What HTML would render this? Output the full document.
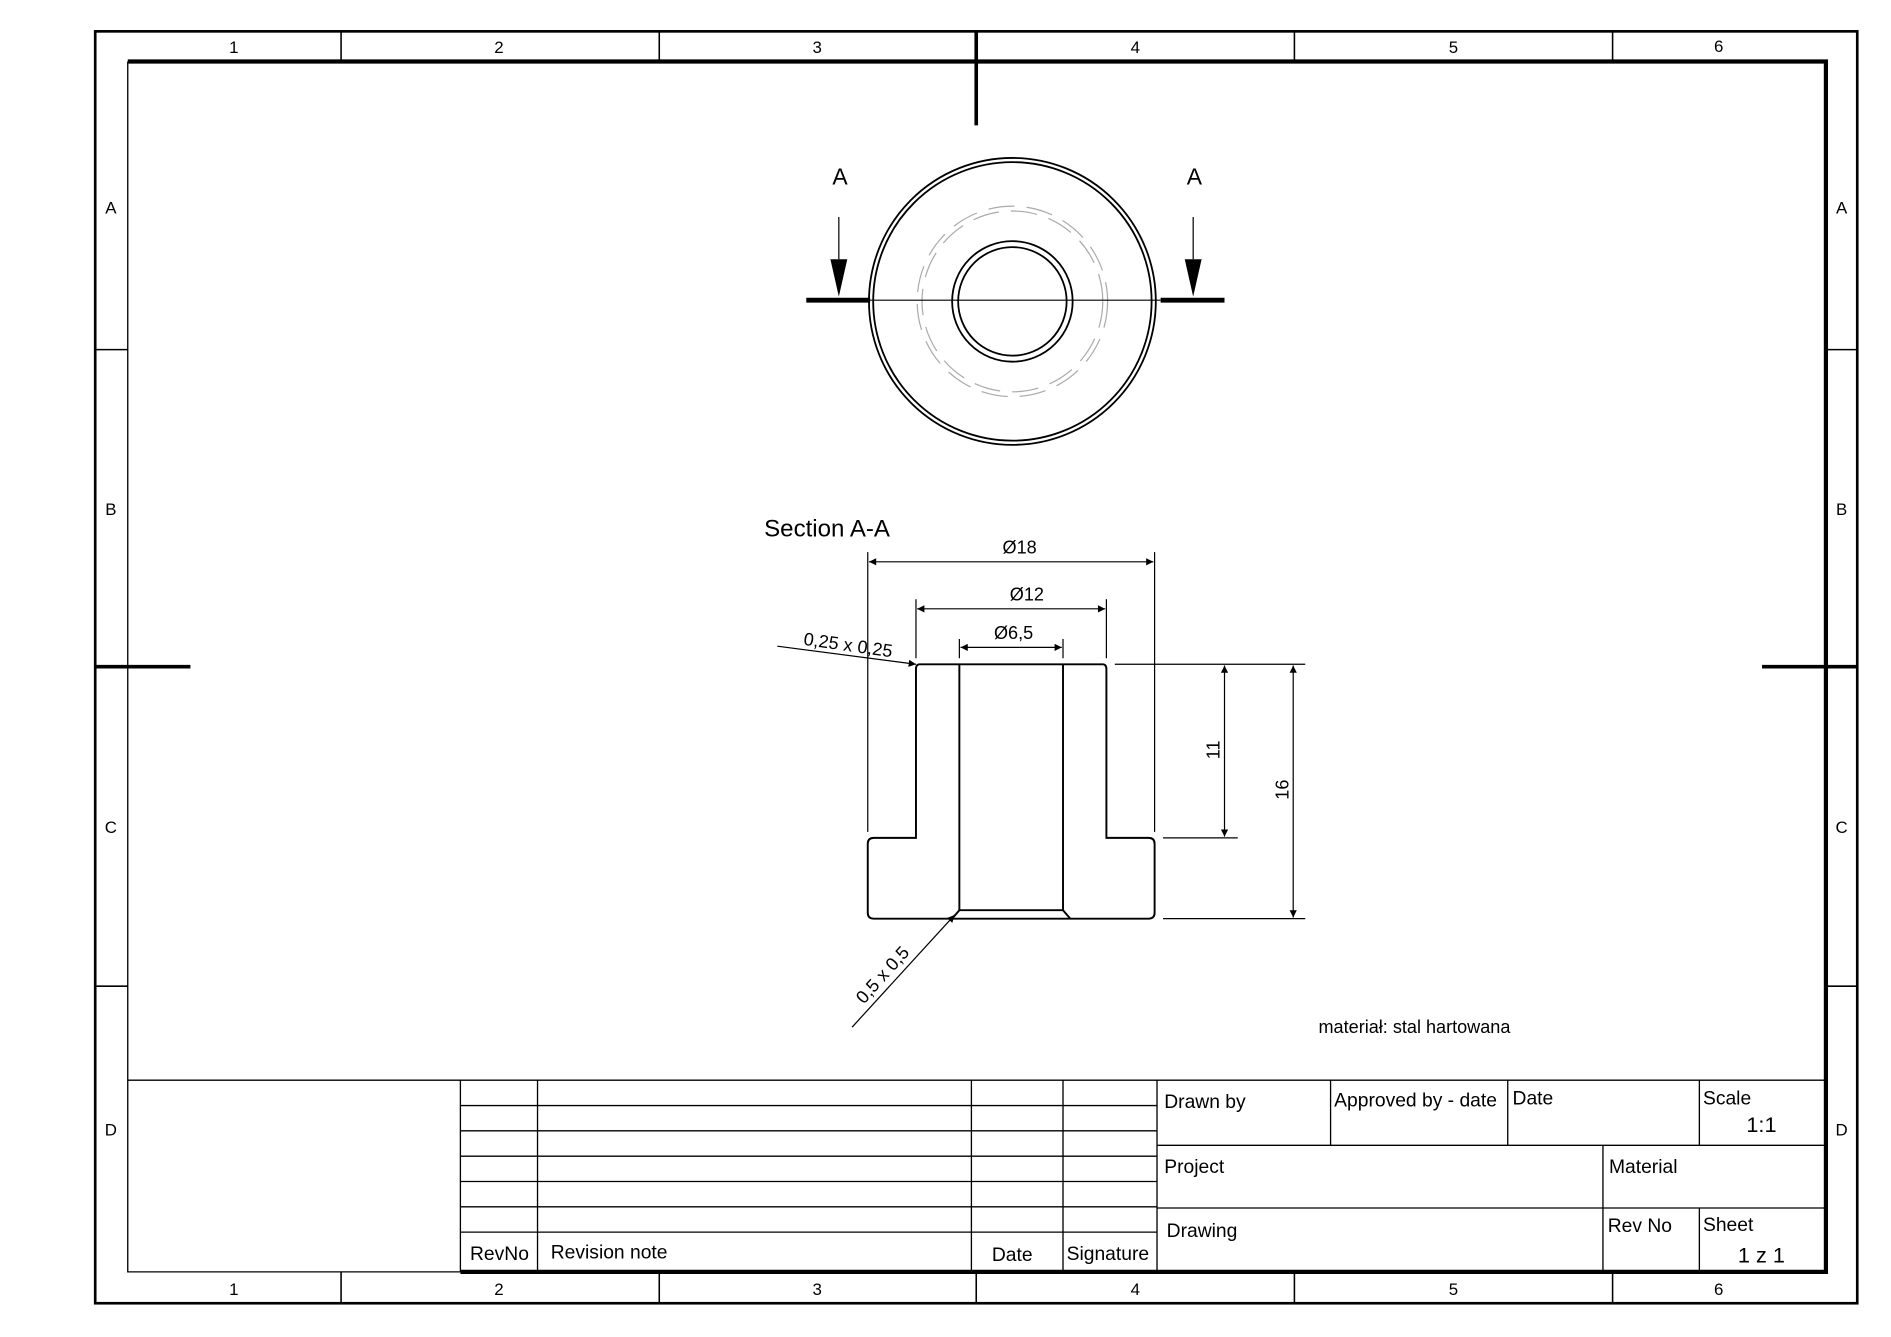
<!DOCTYPE html>
<html><head><meta charset="utf-8"><style>
html,body{margin:0;padding:0;background:#fff;}
svg{display:block;}
text{font-family:"Liberation Sans",Arial,sans-serif;fill:#000;}
</style></head><body>
<svg width="1891" height="1337" viewBox="0 0 1569 1109" preserveAspectRatio="none" xmlns="http://www.w3.org/2000/svg">
<defs>
<marker id="ar" viewBox="0 0 10 10" refX="10" refY="5" markerWidth="16" markerHeight="6" markerUnits="userSpaceOnUse" orient="auto-start-reverse"><path d="M0,0L10,5L0,10z" fill="#000"/></marker>
</defs>
<rect x="0" y="0" width="1569" height="1109" fill="#fff"/>
<rect x="79" y="26" width="1462" height="1055" fill="none" stroke="#000" stroke-width="2.2"/>
<polyline points="382,1055 1515,1055 1515,51 106,51" fill="none" stroke="#000" stroke-width="3.5"/>
<polyline points="106,51 106,1055 382,1055" fill="none" stroke="#000" stroke-width="1.1"/>
<g stroke="#000" stroke-width="1.3">
<line x1="283" y1="26" x2="283" y2="51"/><line x1="547" y1="26" x2="547" y2="51"/><line x1="1074" y1="26" x2="1074" y2="51"/><line x1="1338" y1="26" x2="1338" y2="51"/>
<line x1="283" y1="1055" x2="283" y2="1081"/><line x1="547" y1="1055" x2="547" y2="1081"/><line x1="810" y1="1055" x2="810" y2="1081"/><line x1="1074" y1="1055" x2="1074" y2="1081"/><line x1="1338" y1="1055" x2="1338" y2="1081"/>
<line x1="79" y1="290" x2="106" y2="290"/><line x1="79" y1="818" x2="106" y2="818"/>
<line x1="1515" y1="290" x2="1541" y2="290"/><line x1="1515" y1="818" x2="1541" y2="818"/>
</g>
<g stroke="#000" stroke-width="3">
<line x1="810" y1="26" x2="810" y2="104"/>
<line x1="79" y1="553" x2="158" y2="553"/><line x1="1462" y1="553" x2="1541" y2="553"/>
</g>
<g font-size="14" text-anchor="middle">
<text x="194" y="44">1</text><text x="414" y="44">2</text><text x="678" y="44">3</text><text x="942" y="44">4</text><text x="1206" y="44">5</text><text x="1426" y="43">6</text>
<text x="194" y="1074">1</text><text x="414" y="1074">2</text><text x="678" y="1074">3</text><text x="942" y="1074">4</text><text x="1206" y="1074">5</text><text x="1426" y="1074">6</text>
<text x="92" y="177">A</text><text x="92" y="427">B</text><text x="92" y="691">C</text><text x="92" y="942">D</text>
<text x="1528" y="177">A</text><text x="1528" y="427">B</text><text x="1528" y="691">C</text><text x="1528" y="942">D</text>
</g>
<g fill="none" stroke="#000" stroke-width="1.5">
<circle cx="840" cy="250" r="119"/><circle cx="840" cy="250" r="115.5"/>
<circle cx="840" cy="250" r="50"/><circle cx="840" cy="250" r="45"/>
</g>
<g fill="none" stroke="#aaa" stroke-width="1" stroke-dasharray="22,10">
<circle cx="840" cy="250" r="79"/><circle cx="840" cy="250" r="75"/>
</g>
<line x1="722" y1="249" x2="963" y2="249" stroke="#000" stroke-width="1"/>
<line x1="669" y1="249" x2="722" y2="249" stroke="#000" stroke-width="4"/>
<line x1="963" y1="249" x2="1016" y2="249" stroke="#000" stroke-width="4"/>
<line x1="696" y1="180" x2="696" y2="215" stroke="#000" stroke-width="1"/>
<line x1="990" y1="180" x2="990" y2="215" stroke="#000" stroke-width="1"/>
<path d="M689,215L703,215L696,246z M983,215L997,215L990,246z" fill="#000"/>
<text x="697" y="153" font-size="19" text-anchor="middle">A</text>
<text x="991" y="153" font-size="19" text-anchor="middle">A</text>
<text x="634" y="445" font-size="20">Section A-A</text>
<g fill="none" stroke="#000" stroke-width="1.6">
<path d="M763,551 L915,551 Q918,551 918,555 L918,695 L953,695 Q958,695 958,700 L958,757 Q958,762 953,762 L725,762 Q720,762 720,757 L720,700 Q720,695 725,695 L760,695 L760,555 Q760,551 763,551z"/>
<line x1="796" y1="551" x2="796" y2="755"/><line x1="882" y1="551" x2="882" y2="755"/>
<polyline points="790,762 796,755 882,755 888,762"/>
</g>
<g stroke="#000" stroke-width="1" fill="none">
<line x1="720" y1="458" x2="720" y2="690"/><line x1="958" y1="458" x2="958" y2="690"/>
<line x1="760" y1="497" x2="760" y2="546"/><line x1="918" y1="497" x2="918" y2="546"/>
<line x1="796" y1="530" x2="796" y2="546"/><line x1="882" y1="530" x2="882" y2="546"/>
<line x1="721" y1="466" x2="957" y2="466" marker-start="url(#ar)" marker-end="url(#ar)"/>
<line x1="761" y1="505" x2="917" y2="505" marker-start="url(#ar)" marker-end="url(#ar)"/>
<line x1="797" y1="537" x2="881" y2="537" marker-start="url(#ar)" marker-end="url(#ar)"/>
<line x1="925" y1="551" x2="1083" y2="551"/><line x1="965" y1="695" x2="1027" y2="695"/><line x1="965" y1="762" x2="1083" y2="762"/>
<line x1="1016" y1="552" x2="1016" y2="694" marker-start="url(#ar)" marker-end="url(#ar)"/>
<line x1="1073" y1="552" x2="1073" y2="761" marker-start="url(#ar)" marker-end="url(#ar)"/>
<line x1="645" y1="536" x2="760" y2="551" marker-end="url(#ar)"/>
<line x1="707" y1="852" x2="792" y2="759" marker-end="url(#ar)"/>
</g>
<g font-size="15" text-anchor="middle">
<text x="846" y="459">Ø18</text><text x="852" y="498">Ø12</text><text x="841" y="530">Ø6,5</text>
<text transform="translate(1012,622) rotate(-90)">11</text>
<text transform="translate(1069,655) rotate(-90)">16</text>
<text transform="translate(703,540) rotate(8)">0,25 x 0,25</text>
<text transform="translate(736,812) rotate(-48)">0,5 x 0,5</text>
</g>
<text x="1094" y="857" font-size="15">materiał: stal hartowana</text>
<g stroke="#000" stroke-width="1.1" fill="none">
<line x1="106" y1="896" x2="1515" y2="896"/>
<line x1="382" y1="896" x2="382" y2="1055"/>
<line x1="446" y1="896" x2="446" y2="1055"/><line x1="806" y1="896" x2="806" y2="1055"/><line x1="882" y1="896" x2="882" y2="1055"/><line x1="960" y1="896" x2="960" y2="1055"/>
<line x1="382" y1="917" x2="960" y2="917"/><line x1="382" y1="938" x2="960" y2="938"/><line x1="382" y1="959" x2="960" y2="959"/><line x1="382" y1="980" x2="960" y2="980"/><line x1="382" y1="1001" x2="960" y2="1001"/><line x1="382" y1="1022" x2="960" y2="1022"/>
<line x1="960" y1="950" x2="1515" y2="950"/><line x1="960" y1="1002" x2="1515" y2="1002"/>
<line x1="1104" y1="896" x2="1104" y2="950"/><line x1="1251" y1="896" x2="1251" y2="950"/><line x1="1410" y1="896" x2="1410" y2="950"/>
<line x1="1330" y1="950" x2="1330" y2="1055"/><line x1="1410" y1="1002" x2="1410" y2="1055"/>
</g>
<g font-size="16">
<text x="390" y="1045">RevNo</text><text x="457" y="1044">Revision note</text><text x="823" y="1046">Date</text><text x="885" y="1045">Signature</text>
<text x="966" y="919">Drawn by</text><text x="1107" y="918">Approved by - date</text><text x="1255" y="916">Date</text><text x="1413" y="916">Scale</text>
<text x="1449" y="939" font-size="18">1:1</text>
<text x="966" y="973">Project</text><text x="1335" y="973">Material</text>
<text x="968" y="1026">Drawing</text><text x="1334" y="1022">Rev No</text><text x="1413" y="1021">Sheet</text>
<text x="1442" y="1047" font-size="18">1 z 1</text>
</g>
</svg>
</body></html>
